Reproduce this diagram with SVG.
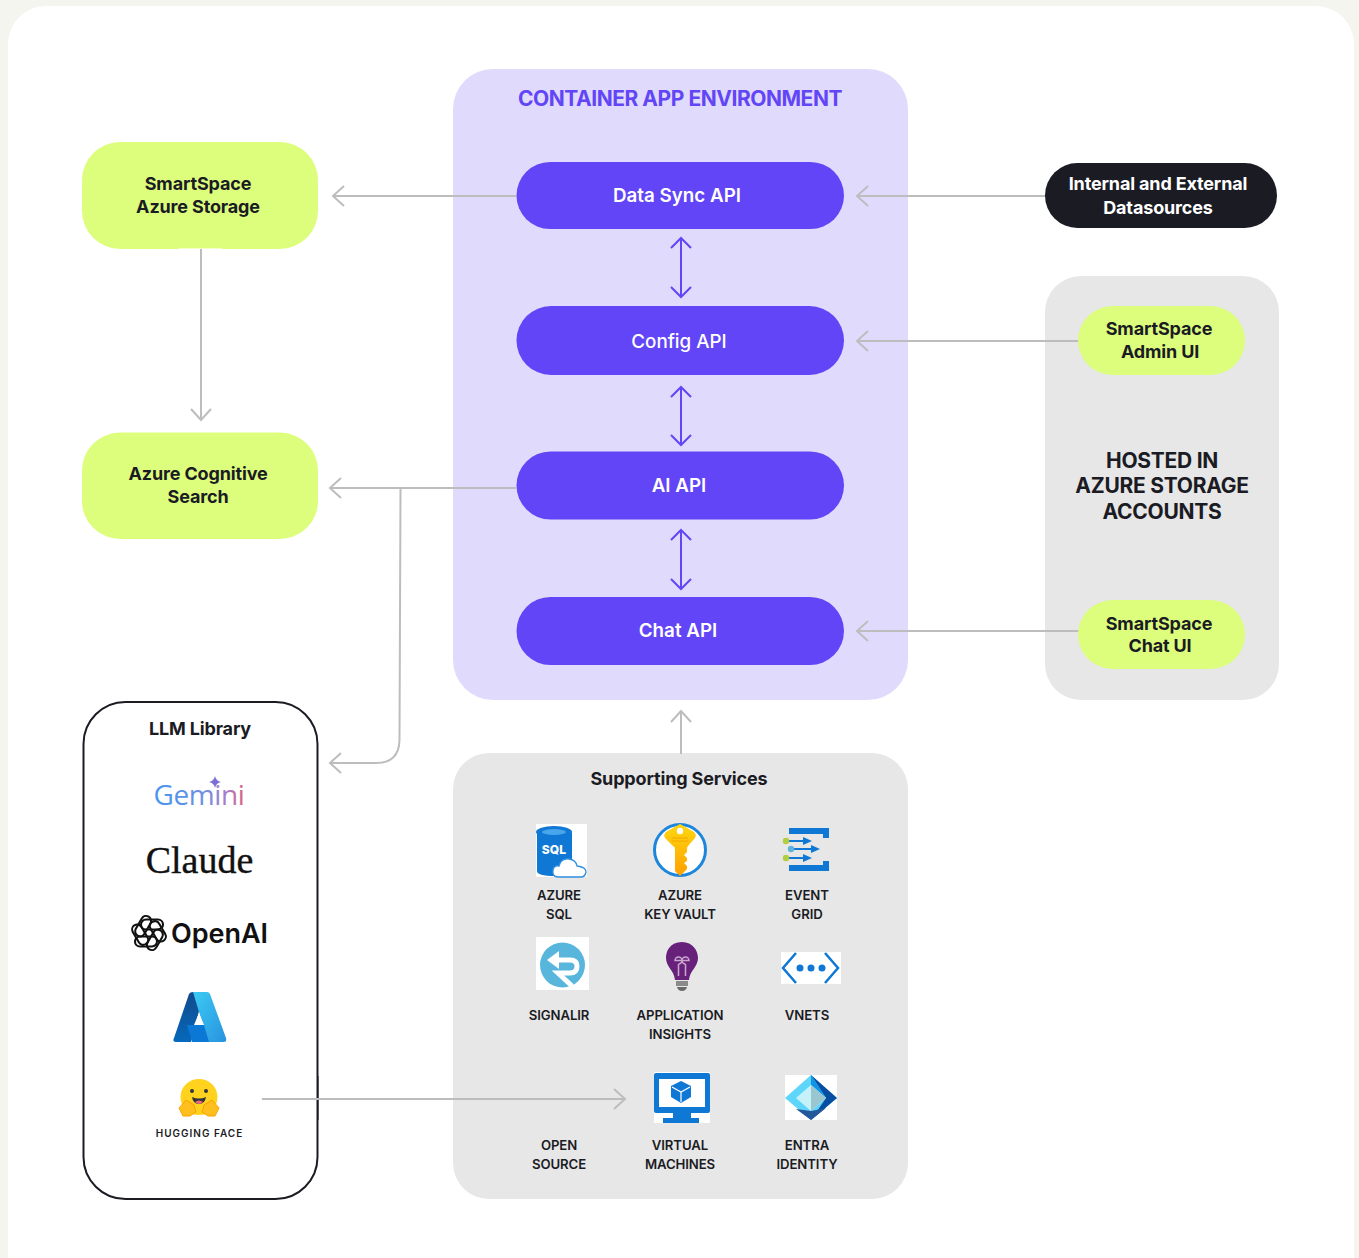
<svg xmlns="http://www.w3.org/2000/svg" width="1359" height="1258" viewBox="0 0 1359 1258">
<style>
text{font-family:Inter,"Liberation Sans",sans-serif;text-anchor:middle;fill:#1b1b24}
.t{font-size:18px;font-weight:700;letter-spacing:-.15px}
.w{font-size:18.800px;font-weight:600;fill:#fff}
.s{font-size:13.200px;font-weight:600;letter-spacing:-.1px}
.h{font-size:21px;font-weight:700;letter-spacing:-.27px}
.g{fill:none;stroke:#bdbdbd;stroke-width:2}
.p{fill:none;stroke:#6145f7;stroke-width:2}
.pill{fill:#6145f7}
.lime{fill:#dcfe7c}
.knot{fill:none;stroke:#111;stroke-width:2.100}
</style>
<defs>
<linearGradient id="gem" x1="0" x2="1" y1="0" y2="0"><stop offset="0" stop-color="#4796ee"/><stop offset=".55" stop-color="#6f8fe0"/><stop offset=".8" stop-color="#a77dc8"/><stop offset="1" stop-color="#d8657f"/></linearGradient>
<linearGradient id="azL" x1="0" x2="0" y1="0" y2="1"><stop offset="0" stop-color="#114a8b"/><stop offset="1" stop-color="#0669bc"/></linearGradient>
<linearGradient id="azR" x1="0" x2="1" y1="0" y2="1"><stop offset="0" stop-color="#3ccbf4"/><stop offset="1" stop-color="#2892df"/></linearGradient>
<linearGradient id="key" x1="0" x2="0" y1="0" y2="1"><stop offset="0" stop-color="#ffd70f"/><stop offset="1" stop-color="#ffa000"/></linearGradient>
</defs>
<rect width="1359" height="1258" fill="#f5f5f0"/>
<rect x="8" y="6" width="1346" height="1290" rx="38" fill="#fff"/>

<g id="container-env"><rect x="453" y="69" width="455" height="631" rx="40" fill="#e0dbfd"/>
<text x="680" y="106" style="font-size:21px;font-weight:700;fill:#6145f7;letter-spacing:-.46px">CONTAINER APP ENVIRONMENT</text></g>
<g id="hosted"><rect x="1045" y="276" width="234" height="424" rx="36" fill="#e7e7e7"/>
<text class="h" x="1162" y="468">HOSTED IN</text><text class="h" x="1162" y="493">AZURE STORAGE</text><text class="h" x="1162" y="519">ACCOUNTS</text></g>
<g id="supporting-services"><rect x="453" y="753" width="455" height="446" rx="36" fill="#e7e7e7"/>
<text x="679" y="785" style="font-size:18px;font-weight:700;letter-spacing:-.15px">Supporting Services</text></g>

<g id="llm-library"><rect x="83.500" y="702" width="234" height="497" rx="42" fill="#fff" stroke="#1b1b24" stroke-width="2"/>
<rect x="317" y="1076" width="1.500" height="44" fill="#1b1b24"/>
<text x="200" y="735" style="font-size:18px;font-weight:700;letter-spacing:-.15px">LLM Library</text>
<text x="199" y="805" style="font-family:'Open Sans',sans-serif;font-size:28px;letter-spacing:-.4px;fill:url(#gem)">Gemini</text>
<path d="M215 776Q216 781 221 782Q216 783 215 788Q214 783 209 782Q214 781 215 776Z" fill="#7b6fd6"/>
<text x="199.500" y="873" style="font-family:'Liberation Serif',serif;font-size:38px;fill:#111;stroke:#111;stroke-width:.4">Claude</text>
<g class="knot">
<rect x="-11" y="-5" width="22" height="10" rx="5" transform="translate(149 933) rotate(0) translate(3 -8.500)"/>
<rect x="-11" y="-5" width="22" height="10" rx="5" transform="translate(149 933) rotate(60) translate(3 -8.500)"/>
<rect x="-11" y="-5" width="22" height="10" rx="5" transform="translate(149 933) rotate(120) translate(3 -8.500)"/>
<rect x="-11" y="-5" width="22" height="10" rx="5" transform="translate(149 933) rotate(180) translate(3 -8.500)"/>
<rect x="-11" y="-5" width="22" height="10" rx="5" transform="translate(149 933) rotate(240) translate(3 -8.500)"/>
<rect x="-11" y="-5" width="22" height="10" rx="5" transform="translate(149 933) rotate(300) translate(3 -8.500)"/></g>
<text x="219.500" y="943" style="font-size:27px;font-weight:600;fill:#111">OpenAI</text>
<path d="M189 994Q190 992 193 992H204L191 1042H176Q172 1042 174 1038Z" fill="url(#azL)"/>
<path d="M193 992H207Q209 992 210 994L226 1038Q227 1042 224 1042H208Z" fill="url(#azR)"/>
<path d="M199 1013L204 1025H194Z" fill="#fff"/>
<path d="M187 1025H204L209 1042H192Z" fill="#0a78d4"/>
<ellipse cx="199" cy="1097" rx="18.500" ry="18" fill="#ffd21e"/>
<circle cx="192" cy="1091" r="2" fill="#32343d"/><circle cx="206" cy="1091" r="2" fill="#32343d"/>
<path d="M192 1097Q199 1100 206 1097Q205 1104 199 1104Q193 1104 192 1097Z" fill="#32343d"/><path d="M195 1102Q199 1099 203 1102Q199 1106 195 1102Z" fill="#f06a7a"/>
<path d="M179 1108L186 1100L194 1105L196 1112L190 1116H183Z M219 1108L212 1100L204 1105L202 1112L208 1116H215Z" fill="#ffc01e" stroke="#ffa000"/>
<text x="199.500" y="1137" style="font-size:10px;font-weight:600;letter-spacing:1px">HUGGING FACE</text></g>

<g id="connectors">
<path class="g" d="M516 196H334M344 186L333 196L344 206"/>
<path class="g" d="M1045 196H858M868 186L857 196L868 206"/>
<path class="g" d="M1079 341H858M868 331L857 341L868 351"/>
<path class="g" d="M1079 631H858M868 621L857 631L868 641"/>
<path class="g" d="M201 248V419M191 409L201 420L211 409"/>
<path class="g" d="M516 488H331M341 478L330 488L341 498"/>
<path class="g" d="M400.500 488L399.500 740Q399 763 376 763H331M341 753L330 763L341 773"/>
<path class="g" d="M681 754V712M671 722L681 711L691 722"/>
<path class="g" d="M262 1099H624M614 1089L625 1099L614 1109"/>
<path class="p" d="M681 238V297M671 248L681 238L691 248M671 287L681 297L691 287"/>
<path class="p" d="M681 387V445M671 397L681 387L691 397M671 435L681 445L691 435"/>
<path class="p" d="M681 530V589M671 540L681 530L691 540M671 579L681 589L691 579"/>
</g>

<g id="data-sync-api"><rect class="pill" x="516.500" y="162" width="327.500" height="67" rx="33.500"/><text class="w" x="677" y="202">Data Sync API</text></g>
<g id="config-api"><rect class="pill" x="516.500" y="306" width="327.500" height="69" rx="34.500"/><text class="w" x="679" y="348" style="font-weight:500">Config API</text></g>
<g id="ai-api"><rect class="pill" x="516.500" y="451.500" width="327.500" height="68" rx="34"/><text class="w" x="679" y="492">AI API</text></g>
<g id="chat-api"><rect class="pill" x="516.500" y="597" width="327.500" height="68" rx="34"/><text class="w" x="678" y="637">Chat API</text></g>

<g id="azure-storage"><rect class="lime" x="82" y="142" width="236" height="107" rx="38"/><rect x="179" y="248" width="43" height="1" fill="#f2ffc9"/><text class="t" x="198" y="190">SmartSpace</text><text class="t" x="198" y="213">Azure Storage</text></g>
<g id="cognitive-search"><rect class="lime" x="82" y="432.500" width="236" height="106.500" rx="38"/><text class="t" x="198" y="480">Azure Cognitive</text><text class="t" x="198" y="503">Search</text></g>

<g id="datasources"><rect x="1045" y="163" width="232" height="65" rx="32.500" fill="#1b1b24"/><text class="t" x="1158" y="190" style="fill:#fff">Internal and External</text><text class="t" x="1158" y="214" style="fill:#fff">Datasources</text></g>
<g id="admin-ui"><rect class="lime" x="1078" y="306" width="167" height="69" rx="34.500"/><text class="t" x="1159" y="335">SmartSpace</text><text class="t" x="1160" y="358">Admin UI</text></g>
<g id="chat-ui"><rect class="lime" x="1078" y="600" width="167" height="69" rx="34.500"/><text class="t" x="1159" y="630">SmartSpace</text><text class="t" x="1160" y="652">Chat UI</text></g>

<g id="azure-sql"><rect x="536" y="824" width="51" height="53" fill="#fff"/>
<path d="M537 833V871Q537 876 555 876Q572 876 572 871V833Z" fill="#0f78d4"/><ellipse cx="554" cy="832" rx="18" ry="6" fill="#0f78d4"/><ellipse cx="554" cy="832" rx="12" ry="3" fill="#49a5ec"/>
<text x="554" y="854" style="font-size:12px;font-weight:800;fill:#fff;letter-spacing:.2px">SQL</text>
<path d="M558 877Q552 877 553 870Q554 865 559 866Q561 858 569 859Q576 860 577 866Q586 867 586 872Q585 877 581 877Z" fill="#fff" stroke="#2f8fe0" stroke-width="1.300"/>
<text class="s" x="559" y="900">AZURE</text><text class="s" x="559" y="919">SQL</text></g>

<g id="key-vault"><circle cx="680" cy="850" r="25.500" fill="#fff" stroke="#1c86dc" stroke-width="3"/>
<path d="M680 824L694 832Q697 835 695 838L688 846Q687 847 687 849V852L684 855L687 858V861L684 863L687 866V869L680 876L675 871V849Q675 847 673 846L665 838Q663 835 666 832Z" fill="url(#key)"/><circle cx="680" cy="831" r="3.200" fill="#fff"/>
<path d="M672 838H688M672 841H688" stroke="#f0a800" stroke-width="1"/>
<text class="s" x="680" y="900">AZURE</text><text class="s" x="680" y="919">KEY VAULT</text></g>

<g id="event-grid"><path d="M789 828H829V838H823V834H789ZM789 871H829V861H823V865H789Z" fill="#0f78d4"/>
<path d="M786 841H806M790 849H813M786 858H806" fill="none" stroke="#0f78d4" stroke-width="2"/>
<path d="M803 837L812 841L803 845ZM811 845L820 849L811 853ZM803 854L812 858L803 862Z" fill="#0f78d4"/>
<circle cx="786" cy="841" r="3.200" fill="#b1cf3c"/><circle cx="791" cy="849" r="3.200" fill="#5eb3de"/><circle cx="786" cy="858" r="3.200" fill="#b1cf3c"/>
<text class="s" x="807" y="900">EVENT</text><text class="s" x="807" y="919">GRID</text></g>

<g id="signalr"><rect x="536" y="937" width="53" height="53" fill="#fff"/><circle cx="562.500" cy="965" r="22.500" fill="#58b6dd"/>
<path d="M552 960H570Q577 960 577 966Q577 973 570 973H558L572 986" fill="none" stroke="#fff" stroke-width="5"/><path d="M559 951L547 960L559 969Z" fill="#fff"/>
<text class="s" x="559" y="1020">SIGNALIR</text></g>

<g id="app-insights"><path d="M682 942C670 942 666 951 666 958C666 967 674 970 675 980H689C690 970 698 967 698 958C698 951 693 942 682 942Z" fill="#68217a"/>
<path d="M678.500 976V964M685.500 976V964M678.500 964A3.500 3.500 0 1 0 675 960.500H682M685.500 964A3.500 3.500 0 1 1 689 960.500H682" fill="none" stroke="#c9a7cf" stroke-width="1.500"/>
<rect x="676" y="981" width="12" height="5" fill="#8a8a8a"/><path d="M677 987H687Q686 991 682 991Q678 991 677 987Z" fill="#6a6a6a"/>
<text class="s" x="680" y="1020">APPLICATION</text><text class="s" x="680" y="1039">INSIGHTS</text></g>

<g id="vnets"><rect x="781" y="952" width="60" height="32" fill="#fff"/>
<path d="M796 953L783 968L796 983M825 953L838 968L825 983" fill="none" stroke="#0f78d4" stroke-width="2.500"/>
<circle cx="800" cy="968" r="3.500" fill="#0f78d4"/><circle cx="811" cy="968" r="3.500" fill="#0f78d4"/><circle cx="822" cy="968" r="3.500" fill="#0f78d4"/>
<text class="s" x="807" y="1020">VNETS</text></g>

<g id="open-source"><text class="s" x="559" y="1150">OPEN</text><text class="s" x="559" y="1169">SOURCE</text></g>

<g id="virtual-machines"><rect x="654" y="1072" width="56" height="51" fill="#fff"/><path d="M656 1073H708Q710 1073 710 1075V1111Q710 1113 708 1113H656Q654 1113 654 1111V1075Q654 1073 656 1073ZM659 1079V1107H705V1079Z" fill="#0f78d4" fill-rule="evenodd"/>
<path d="M673 1113H691V1118H699V1123H663V1118H673Z" fill="#0f78d4"/>
<path d="M681 1081L691 1086V1097L681 1103L671 1097V1086Z" fill="#0f78d4"/><path d="M672 1087L681 1092L690 1087M681 1092V1102" fill="none" stroke="#fff" stroke-width="1.200"/>
<text class="s" x="680" y="1150">VIRTUAL</text><text class="s" x="680" y="1169">MACHINES</text></g>

<g id="entra"><rect x="785" y="1075" width="52" height="45" fill="#fff"/>
<path d="M785 1098L811 1075L837 1098L811 1120Z" fill="#5ed6fc"/><path d="M811 1075L837 1098L811 1120L826 1098Z" fill="#074ea0"/><path d="M811 1075L826 1098L811 1085Z" fill="#0f94e6"/><path d="M796 1098L811 1085L826 1098L811 1111Z" fill="#c5f2f8"/><path d="M811 1085L826 1098L811 1111Z" fill="#99c6cf"/><path d="M796 1109L811 1111L826 1108L811 1120Z" fill="#23589b"/>
<text class="s" x="807" y="1150">ENTRA</text><text class="s" x="807" y="1169">IDENTITY</text></g>
</svg>
